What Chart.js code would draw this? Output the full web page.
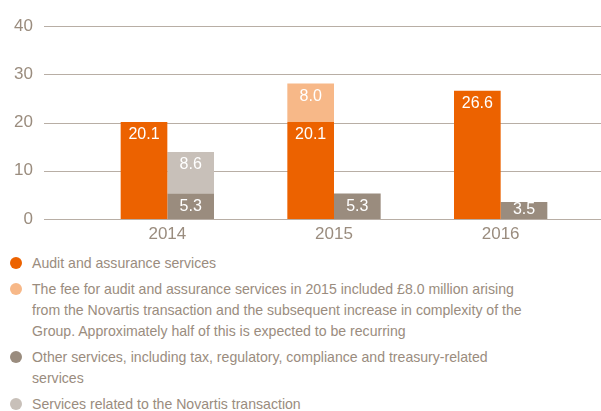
<!DOCTYPE html>
<html>
<head>
<meta charset="utf-8">
<script src="https://cdn.jsdelivr.net/npm/chart.js@4.4.1/dist/chart.umd.min.js"></script>
<style>
  html, body { margin: 0; padding: 0; background: #fff; }
  body { width: 601px; height: 411px; position: relative; overflow: hidden; font-family: "Liberation Sans", Arial, sans-serif; }
  #wrap { position: absolute; left: 0; top: 0; width: 601px; height: 250px; }
  #legend { position: absolute; left: 0; top: 253px; width: 601px; }
  .item { display: flex; align-items: flex-start; margin-bottom: 5px; }
  .dot { flex: 0 0 auto; width: 12px; height: 12px; border-radius: 50%; margin: 4px 10px 0 10px; }
  .txt { font-size: 14.1px; line-height: 21px; color: #9a8c7e; width: 498px; }
</style>
</head>
<body>
<div id="wrap"><canvas id="c" width="601" height="250"></canvas></div>
<div id="legend"></div>
<script>
const categories = ["2014", "2015", "2016"];
const auditAssurance = [20.1, 20.1, 26.6];
const novartisFee = [0, 8.0, 0];
const otherServices = [5.3, 5.3, 3.5];
const novartisServices = [8.6, 0, 0];
const yTicks = [0, 10, 20, 30, 40];
const legendLabels = [
  "Audit and assurance services",
  "The fee for audit and assurance services in 2015 included £8.0 million arising from the Novartis transaction and the subsequent increase in complexity of the Group. Approximately half of this is expected to be recurring",
  "Other services, including tax, regulatory, compliance and treasury-related services",
  "Services related to the Novartis transaction"
];
const colors = ["#EC6200", "#F7B888", "#9A8C7E", "#C8C0B9"];
const FONT = '"Liberation Sans", Arial, sans-serif';
const TXT = "#9a8c7e";

const gridPlugin = {
  id: "gridExt",
  beforeDatasetsDraw(chart) {
    const ctx = chart.ctx, y = chart.scales.y;
    ctx.save();
    ctx.strokeStyle = "#b8aea5";
    ctx.lineWidth = 1.2;
    yTicks.forEach(v => {
      const py = Math.round(y.getPixelForValue(v)) + 0.5;
      ctx.beginPath(); ctx.moveTo(44, py); ctx.lineTo(601, py); ctx.stroke();
    });
    ctx.restore();
  }
};
const labelPlugin = {
  id: "barLabels",
  afterDatasetsDraw(chart) {
    const ctx = chart.ctx;
    ctx.save();
    ctx.fillStyle = "#ffffff";
    ctx.font = "16px " + FONT;
    ctx.textAlign = "center";
    ctx.textBaseline = "middle";
    chart.data.datasets.forEach((ds, i) => {
      const meta = chart.getDatasetMeta(i);
      meta.data.forEach((bar, j) => {
        const v = ds.data[j];
        if (!v) return;
        const ty = Math.min(bar.y + 13, bar.base - 9);
        ctx.fillText(v.toFixed(1), bar.x, ty);
      });
    });
    ctx.restore();
  }
};

new Chart(document.getElementById("c"), {
  type: "bar",
  data: {
    labels: categories,
    datasets: [
      { label: legendLabels[0], data: auditAssurance, backgroundColor: colors[0], stack: "a" },
      { label: legendLabels[1], data: novartisFee, backgroundColor: colors[1], stack: "a" },
      { label: legendLabels[2], data: otherServices, backgroundColor: colors[2], stack: "b" },
      { label: legendLabels[3], data: novartisServices, backgroundColor: colors[3], stack: "b" }
    ]
  },
  options: {
    responsive: false,
    animation: false,
    layout: { padding: { top: 26, right: 17, left: 0, bottom: 0 } },
    datasets: { bar: { barPercentage: 1, categoryPercentage: 0.56, borderWidth: 0 } },
    plugins: { legend: { display: false }, tooltip: { enabled: false } },
    scales: {
      x: {
        stacked: true,
        grid: { display: false, drawTicks: false },
        border: { display: false },
        ticks: { color: TXT, font: { family: FONT, size: 17 }, padding: 5 },
        afterFit(s) { s.height = 31; }
      },
      y: {
        stacked: true,
        min: 0, max: 40,
        afterBuildTicks(s) { s.ticks = yTicks.map(v => ({ value: v })); },
        grid: { display: false, drawTicks: false },
        border: { display: false },
        ticks: { color: TXT, font: { family: FONT, size: 17 }, padding: 51 },
        afterFit(s) { s.width = 84; s.paddingTop = 8; s.paddingBottom = 8; }
      }
    }
  },
  plugins: [gridPlugin, labelPlugin]
});

const lg = document.getElementById("legend");
legendLabels.forEach((t, i) => {
  const d = document.createElement("div"); d.className = "item";
  const dot = document.createElement("span"); dot.className = "dot"; dot.style.background = colors[i];
  const tx = document.createElement("span"); tx.className = "txt"; tx.textContent = t;
  d.appendChild(dot); d.appendChild(tx); lg.appendChild(d);
});
</script>
</body>
</html>
